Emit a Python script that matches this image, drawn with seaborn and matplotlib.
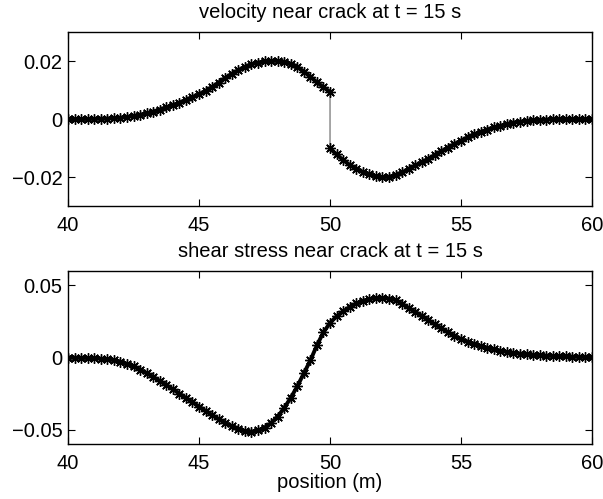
import numpy as np
import pandas as pd
import seaborn as sns
import matplotlib
matplotlib.use("Agg")
import matplotlib.pyplot as plt

# x positions (m), step 0.25 on each side of the crack at x = 50
x_left = [40.0, 40.25, 40.5, 40.75, 41.0, 41.25, 41.5, 41.75, 42.0, 42.25,
          42.5, 42.75, 43.0, 43.25, 43.5, 43.75, 44.0, 44.25, 44.5, 44.75,
          45.0, 45.25, 45.5, 45.75, 46.0, 46.25, 46.5, 46.75, 47.0, 47.25,
          47.5, 47.75, 48.0, 48.25, 48.5, 48.75, 49.0, 49.25, 49.5, 49.75, 50.0]
x_right = [50.0, 50.25, 50.5, 50.75, 51.0, 51.25, 51.5, 51.75, 52.0, 52.25,
           52.5, 52.75, 53.0, 53.25, 53.5, 53.75, 54.0, 54.25, 54.5, 54.75,
           55.0, 55.25, 55.5, 55.75, 56.0, 56.25, 56.5, 56.75, 57.0, 57.25,
           57.5, 57.75, 58.0, 58.25, 58.5, 58.75, 59.0, 59.25, 59.5, 59.75, 60.0]

# velocity (x 1e-3), left and right of the crack
vel_left = [0.0, 0.0, 0.05, 0.05, 0.1, 0.15, 0.2, 0.35, 0.5, 0.75,
            1.1, 1.5, 2.0, 2.6, 3.3, 4.0, 4.8, 5.7, 6.6, 7.6,
            8.6, 9.7, 11.1, 12.6, 14.2, 15.6, 16.9, 18.0, 18.9, 19.5,
            19.9, 20.1, 20.1, 19.8, 19.1, 18.0, 16.4, 14.6, 12.7, 11.0, 9.4]
vel_right = [-10.1, -12.2, -14.1, -15.8, -17.1, -18.2, -19.1, -19.7, -20.0, -19.9,
             -19.3, -18.4, -17.2, -16.0, -14.9, -13.7, -12.4, -11.1, -9.8, -8.6,
             -7.4, -6.3, -5.3, -4.4, -3.6, -2.9, -2.3, -1.7, -1.2, -0.9,
             -0.6, -0.4, -0.25, -0.15, -0.1, -0.05, -0.05, 0.0, 0.0, 0.0, 0.0]

# shear stress (x 1e-3), continuous across the crack
stress_left = [0.0, -0.1, -0.2, -0.3, -0.5, -0.8, -1.2, -1.9, -2.9, -4.4,
               -6.2, -8.4, -10.8, -13.4, -16.2, -19.0, -22.0, -25.0, -28.0, -31.0,
               -34.0, -37.0, -40.0, -42.7, -45.2, -47.6, -49.5, -50.9, -51.4, -50.6,
               -48.6, -45.5, -41.0, -35.0, -28.0, -20.0, -11.0, -2.0, 8.5, 17.5, 24.0]
stress_right = [24.0, 28.5, 32.0, 35.0, 37.5, 39.3, 40.5, 41.2, 41.4, 40.9,
                39.8, 37.3, 34.4, 31.6, 29.0, 26.0, 23.0, 20.2, 17.6, 15.0,
                12.8, 11.0, 9.4, 8.0, 6.7, 5.6, 4.7, 3.9, 3.2, 2.7,
                2.2, 1.9, 1.6, 1.3, 1.1, 0.9, 0.7, 0.6, 0.5, 0.4, 0.3]

vel_ticks = [-0.02, 0, 0.02]
vel_labels = ["\u22120.02", "0", "0.02"]
stress_ticks = [-0.05, 0, 0.05]
stress_labels = ["\u22120.05", "0", "0.05"]
x_ticks = [40, 45, 50, 55, 60]

df_vel = pd.DataFrame({
    "x": x_left + x_right,
    "y": np.array(vel_left + vel_right) * 1e-3,
    "side": ["left"] * len(x_left) + ["right"] * len(x_right),
})
df_str = pd.DataFrame({
    "x": x_left + x_right[1:],
    "y": np.array(stress_left + stress_right[1:]) * 1e-3,
})

sns.set_style("ticks")
plt.rcParams["font.family"] = ["Liberation Sans", "DejaVu Sans"]
plt.rcParams["xtick.direction"] = "in"
plt.rcParams["ytick.direction"] = "in"
plt.rcParams["text.color"] = "k"
plt.rcParams["axes.labelcolor"] = "k"
plt.rcParams["xtick.color"] = "k"
plt.rcParams["ytick.color"] = "k"

fig = plt.figure(figsize=(6.03, 4.99), dpi=100)
ax1 = fig.add_axes([0.1128, 0.587, 0.869, 0.3487])
ax2 = fig.add_axes([0.1128, 0.1102, 0.869, 0.3467])

# asterisk markers like matlab '-*'
star = dict(color="k", linewidth=2.8, marker=(8, 2, 0), markersize=7.5,
            markeredgewidth=1.0, markeredgecolor="k", markerfacecolor="k")

# thin connecting line (shows the jump at the crack)
sns.lineplot(data=df_vel, x="x", y="y", sort=False, estimator=None,
             color="0.3", linewidth=0.7, ax=ax1)
for side, part in df_vel.groupby("side"):
    sns.lineplot(data=part, x="x", y="y", sort=False, estimator=None,
                 ax=ax1, **star)

sns.lineplot(data=df_str, x="x", y="y", sort=False, estimator=None,
             ax=ax2, **star)

for ax, ticks, labels, lim in [(ax1, vel_ticks, vel_labels, 0.03),
                               (ax2, stress_ticks, stress_labels, 0.06)]:
    ax.set_xlim(40, 60)
    ax.set_ylim(-lim, lim)
    ax.set_xticks(x_ticks)
    ax.set_yticks(ticks)
    ax.set_yticklabels(labels)
    ax.tick_params(axis="both", labelsize=14.5, length=5, width=0.8,
                   top=True, right=True, colors="k")
    ax.tick_params(axis="x", pad=7)
    ax.tick_params(axis="y", pad=4)
    for s in ax.spines.values():
        s.set_visible(True)
        s.set_linewidth(1.0)
        s.set_color("k")
    ax.set_xlabel("")
    ax.set_ylabel("")

ax1.set_title("velocity near crack at t = 15 s", fontsize=14.5, pad=10, color="k")
ax2.set_title("shear stress near crack at t = 15 s", fontsize=14.5, pad=10, color="k")
ax2.set_xlabel("position (m)", fontsize=14.5, labelpad=0, color="k")

fig.savefig("out.png", dpi=100)
